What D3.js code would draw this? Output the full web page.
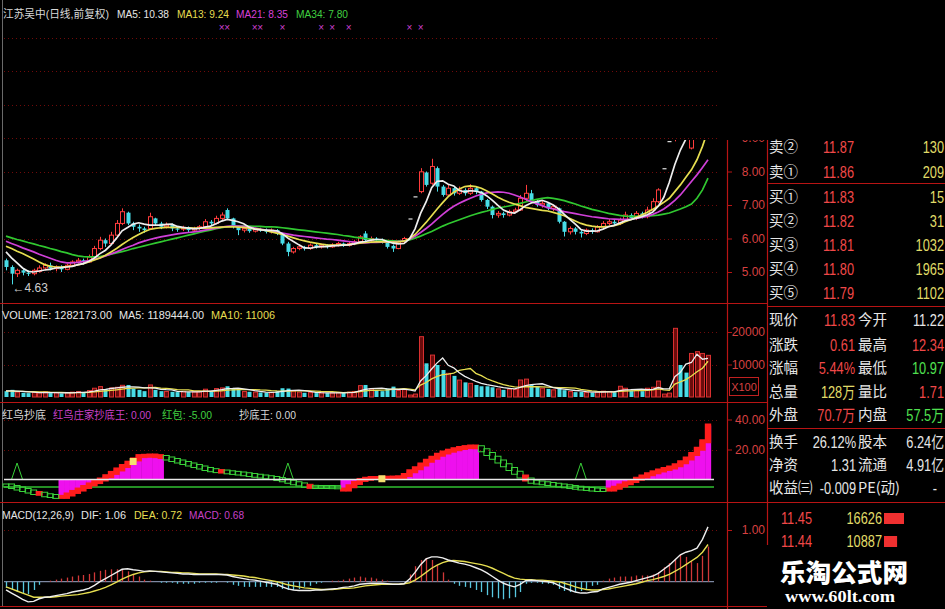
<!DOCTYPE html>
<html><head><meta charset="utf-8">
<script src="https://cdn.jsdelivr.net/npm/d3@7/dist/d3.min.js"></script>
<style>html,body{margin:0;padding:0;background:#000;overflow:hidden}svg{display:block}</style>
</head><body>
<svg id="chart" width="945" height="609"></svg>
<script>
// ---------------- DATA ----------------
const openP=[5.35,5.15,4.95,5.05,4.98,4.95,5.02,5.12,5.20,5.10,
5.15,5.08,5.20,5.30,5.35,5.30,5.45,5.70,5.95,5.85,
6.10,6.45,6.77,6.45,6.35,6.30,6.30,6.60,6.45,6.35,
6.40,6.30,6.28,6.32,6.25,6.30,6.35,6.50,6.45,6.60,
6.85,6.60,6.35,6.25,6.30,6.22,6.28,6.25,6.20,6.25,
6.15,5.85,5.60,5.70,5.75,5.70,5.80,5.75,5.80,5.75,
5.80,5.85,5.80,5.85,5.90,6.15,5.95,6.00,5.95,5.90,
5.78,5.70,5.90,6.60,7.26,7.40,7.97,7.65,8.10,7.55,
7.30,7.50,7.35,7.45,7.35,7.50,7.40,7.15,6.95,6.70,
6.75,6.70,6.80,6.85,7.20,7.35,7.10,7.00,7.05,6.90,
6.90,6.50,6.20,6.30,6.20,6.15,6.25,6.20,6.35,6.45,
6.50,6.45,6.55,6.70,6.60,6.75,6.65,6.85,7.10,8.10,
8.91,9.00,9.50,9.25,8.70,9.60,10.50,11.22];
const closeP=[5.15,4.95,5.05,4.98,4.95,5.05,5.12,5.20,5.10,5.15,
5.08,5.20,5.30,5.35,5.30,5.45,5.70,5.95,5.85,6.10,
6.45,6.80,6.45,6.35,6.30,6.25,6.65,6.45,6.35,6.40,
6.30,6.28,6.32,6.25,6.30,6.35,6.50,6.45,6.60,6.70,
6.60,6.35,6.25,6.30,6.22,6.28,6.25,6.20,6.25,6.15,
5.85,5.60,5.70,5.75,5.70,5.80,5.75,5.80,5.75,5.80,
5.85,5.80,5.85,5.90,6.05,5.95,6.00,5.95,5.90,5.75,
5.70,5.90,6.00,6.60,7.26,7.99,7.60,8.15,7.55,7.30,
7.50,7.35,7.45,7.35,7.50,7.40,7.15,6.95,6.70,6.75,
6.70,6.80,6.85,7.20,7.35,7.10,7.00,7.05,6.90,6.95,
6.50,6.20,6.30,6.20,6.15,6.25,6.20,6.35,6.45,6.50,
6.45,6.55,6.70,6.60,6.75,6.65,6.85,7.10,7.45,8.10,
8.91,9.50,9.25,9.10,9.55,10.20,11.22,11.83];
const highP=[5.40,5.20,5.10,5.12,5.05,5.10,5.20,5.26,5.28,5.20,
5.20,5.25,5.35,5.42,5.40,5.52,5.78,6.05,6.00,6.20,
6.55,6.90,6.80,6.50,6.42,6.35,6.77,6.62,6.50,6.48,
6.45,6.35,6.38,6.36,6.35,6.40,6.58,6.55,6.68,6.78,
6.90,6.62,6.38,6.35,6.33,6.32,6.32,6.30,6.30,6.28,
6.17,5.90,5.75,5.80,5.78,5.85,5.84,5.85,5.83,5.86,
5.90,5.88,5.90,5.96,6.10,6.22,6.06,6.04,6.00,5.93,
5.82,5.95,6.05,6.60,7.26,8.10,8.00,8.38,8.15,7.60,
7.62,7.55,7.55,7.50,7.62,7.55,7.42,7.18,6.98,6.82,
6.80,6.86,6.92,7.30,7.60,7.45,7.15,7.12,7.08,7.00,
6.92,6.52,6.36,6.34,6.25,6.30,6.30,6.40,6.52,6.58,
6.56,6.62,6.80,6.75,6.82,6.80,6.95,7.20,7.50,8.10,
8.91,9.80,9.70,9.40,9.60,10.30,11.22,12.34];
const lowP=[5.05,4.63,4.85,4.90,4.88,4.90,4.98,5.05,5.05,5.02,
5.00,5.05,5.15,5.25,5.22,5.28,5.42,5.65,5.75,5.80,
6.05,6.40,6.40,6.25,6.20,6.17,6.28,6.38,6.28,6.30,
6.22,6.20,6.22,6.18,6.20,6.25,6.32,6.40,6.42,6.55,
6.57,6.30,6.10,6.18,6.17,6.18,6.20,6.15,6.15,6.10,
5.80,5.47,5.55,5.65,5.64,5.66,5.70,5.70,5.70,5.72,
5.76,5.75,5.76,5.80,5.86,5.90,5.90,5.90,5.85,5.70,
5.60,5.68,5.86,6.60,7.26,7.35,7.55,7.60,7.40,7.25,
7.25,7.28,7.30,7.28,7.30,7.32,7.10,6.88,6.60,6.62,
6.62,6.66,6.75,6.82,7.10,7.05,6.95,6.92,6.85,6.82,
6.45,6.06,6.12,6.12,6.03,6.10,6.14,6.18,6.30,6.40,
6.38,6.40,6.50,6.55,6.55,6.60,6.60,6.80,7.05,8.10,
8.91,8.90,9.10,8.95,8.66,9.50,10.30,10.97];
const ma5=[5.60,5.42,5.27,5.12,5.02,5.00,5.03,5.06,5.08,5.12,
5.13,5.15,5.17,5.22,5.25,5.32,5.42,5.55,5.65,5.81,
6.01,6.23,6.33,6.43,6.47,6.43,6.40,6.40,6.40,6.42,
6.43,6.36,6.33,6.31,6.29,6.30,6.34,6.37,6.44,6.52,
6.57,6.54,6.50,6.44,6.34,6.28,6.26,6.25,6.24,6.23,
6.14,6.01,5.91,5.81,5.72,5.71,5.74,5.76,5.76,5.78,
5.79,5.80,5.81,5.84,5.89,5.91,5.95,5.97,5.97,5.91,
5.86,5.84,5.85,5.99,6.29,6.75,7.09,7.52,7.71,7.72,
7.62,7.57,7.43,7.39,7.43,7.41,7.37,7.27,7.14,6.99,
6.85,6.78,6.76,6.86,6.98,7.06,7.10,7.14,7.08,7.00,
6.88,6.72,6.57,6.43,6.27,6.22,6.22,6.23,6.28,6.35,
6.39,6.46,6.53,6.56,6.61,6.65,6.71,6.79,6.96,7.23,
7.68,8.21,8.64,8.97,9.26,9.52,9.86,10.38];
const ma13=[5.77,5.70,5.62,5.55,5.47,5.39,5.30,5.22,5.17,5.15,
5.15,5.16,5.18,5.21,5.25,5.30,5.36,5.42,5.50,5.60,
5.70,5.82,5.93,6.03,6.12,6.20,6.27,6.30,6.32,6.33,
6.33,6.33,6.32,6.32,6.31,6.31,6.31,6.32,6.33,6.34,
6.35,6.35,6.34,6.33,6.31,6.29,6.27,6.24,6.20,6.16,
6.12,6.07,6.02,5.97,5.93,5.89,5.86,5.83,5.81,5.80,
5.80,5.81,5.82,5.84,5.86,5.88,5.89,5.90,5.90,5.90,
5.89,5.90,5.92,6.00,6.12,6.30,6.48,6.68,6.88,7.07,
7.25,7.38,7.48,7.55,7.57,7.55,7.50,7.42,7.33,7.23,
7.15,7.08,7.03,6.98,6.93,6.90,6.87,6.84,6.82,6.78,
6.73,6.68,6.60,6.52,6.45,6.40,6.37,6.35,6.35,6.36,
6.38,6.43,6.50,6.56,6.63,6.70,6.78,6.87,6.97,7.08,
7.20,7.40,7.60,7.83,8.05,8.35,8.75,9.24];
const ma21=[5.92,5.85,5.79,5.72,5.66,5.60,5.53,5.47,5.41,5.35,
5.30,5.27,5.27,5.29,5.31,5.34,5.38,5.42,5.48,5.54,
5.60,5.67,5.74,5.80,5.87,5.92,5.97,6.01,6.05,6.08,
6.11,6.14,6.16,6.18,6.20,6.22,6.25,6.28,6.31,6.34,
6.36,6.37,6.37,6.36,6.34,6.31,6.28,6.25,6.22,6.19,
6.16,6.13,6.10,6.08,6.06,6.04,6.02,6.00,5.98,5.97,
5.95,5.93,5.91,5.89,5.87,5.87,5.88,5.88,5.89,5.90,
5.90,5.91,5.92,5.98,6.07,6.18,6.30,6.43,6.58,6.72,
6.85,6.96,7.05,7.13,7.20,7.27,7.32,7.36,7.38,7.39,
7.38,7.35,7.30,7.24,7.17,7.10,7.04,6.98,6.92,6.88,
6.84,6.80,6.77,6.74,6.71,6.68,6.65,6.63,6.61,6.59,
6.58,6.57,6.57,6.58,6.60,6.63,6.67,6.72,6.79,6.88,
7.00,7.14,7.30,7.50,7.70,7.90,8.12,8.35];
const ma34=[6.07,6.02,5.97,5.93,5.88,5.84,5.79,5.75,5.70,5.66,
5.61,5.57,5.52,5.48,5.46,5.45,5.45,5.46,5.49,5.53,
5.57,5.61,5.65,5.70,5.74,5.78,5.82,5.86,5.90,5.94,
5.98,6.02,6.06,6.10,6.14,6.18,6.22,6.25,6.29,6.32,
6.35,6.37,6.37,6.37,6.37,6.36,6.36,6.35,6.35,6.34,
6.32,6.30,6.28,6.26,6.24,6.22,6.20,6.18,6.16,6.14,
6.12,6.09,6.07,6.04,6.02,6.00,5.98,5.96,5.95,5.94,
5.93,5.92,5.92,5.96,6.01,6.07,6.14,6.21,6.29,6.37,
6.44,6.50,6.56,6.62,6.68,6.73,6.78,6.82,6.87,6.91,
6.94,6.97,7.01,7.05,7.09,7.13,7.17,7.20,7.22,7.20,
7.17,7.13,7.08,7.03,6.97,6.92,6.87,6.83,6.79,6.75,
6.72,6.69,6.67,6.66,6.66,6.66,6.67,6.68,6.70,6.73,
6.76,6.82,6.88,6.95,7.03,7.20,7.45,7.80];
const volume=[1800,2200,1500,1300,1200,1400,1300,1600,1200,1300,
1100,1400,1500,1700,1300,2000,2700,3200,2400,2800,
3000,3600,3700,2600,2200,1800,3700,2200,1800,1700,
1600,1500,1700,1500,1600,1700,2400,1900,2600,2800,
3300,2600,2300,1700,1600,1500,1400,1300,1400,1800,
2700,2600,1800,1500,1300,1400,1200,1300,1200,1300,
1400,1300,1500,1700,3500,3700,2500,2000,1800,2600,
3200,2000,2400,600,900,18560,10360,12900,9850,8300,
7280,6500,5200,4500,4200,3700,3300,3300,3000,2500,
2200,2400,2300,5230,5500,3700,3200,2700,2500,2200,
2500,2100,1700,1500,1600,1400,1300,1600,1800,1700,
1500,3300,2700,2000,2200,1800,2700,3000,4900,900,
1200,21130,9850,7500,13400,13950,13400,12822];
const volMa5=[1900,1900,1800,1700,1600,1520,1340,1360,1340,1360,
1300,1320,1300,1400,1400,1580,1840,2180,2320,2620,
2820,3000,3100,3140,3020,2780,2800,2700,2340,2240,
2200,1760,1660,1600,1580,1600,1780,1820,2040,2280,
2600,2640,2720,2500,2300,1940,1700,1500,1440,1480,
1740,1960,2060,2080,1980,1720,1440,1340,1280,1280,
1280,1300,1340,1440,1880,2340,2580,2680,2700,2520,
2420,2320,2400,2160,1820,4940,6560,8620,10510,11990,
9740,8960,7430,6360,5540,4820,4180,3800,3500,3160,
2860,2680,2480,2930,3530,3830,3990,4070,3520,2860,
2620,2400,2200,2000,1880,1660,1500,1480,1540,1560,
1580,1980,2200,2240,2340,2400,2280,2340,2920,2520,
2540,6226,7596,10116,10616,13166,11620,11894];
const volMa10=[1800,1800,1750,1700,1680,1650,1600,1550,1470,1430,
1410,1340,1320,1350,1350,1440,1570,1740,1860,2010,
2200,2420,2640,2730,2820,2800,2900,2950,2740,2630,
2490,2270,2200,2170,1910,1900,1770,1740,1820,1930,
2100,2210,2270,2270,2290,2270,2170,2110,1970,1870,
1810,1820,1880,1940,1930,1890,1830,1700,1630,1630,
1510,1370,1400,1440,1660,1900,2020,2070,2100,2220,
2380,2450,2540,2430,2180,3670,4450,5560,6340,6910,
7050,7380,8230,8480,8770,7280,6570,5610,4930,4350,
3840,3430,3140,3020,3150,3160,3150,3090,3010,2980,
2910,2880,2810,2730,2350,2140,1900,1730,1660,1630,
1570,1720,1840,1880,1940,1940,2030,2180,2490,2210,
2020,3960,4660,5360,6480,7750,8850,11006];
// 红鸟抄底 indicator
const birdLine=[-4,-5,-6,-7,-8,-9,-9.5,-10.5,-11,-11.6,
-11.6,-10,-8.3,-6.7,-5,-3.3,-1.7,0,2.2,4.4,
6.7,9,11.2,13.4,15.6,15.8,16,15.6,15,14,
13,12,11,10,9,8,7,6.2,5.6,5.3,
4.8,4.4,4,3.5,3,2.5,2,1.5,1,0.3,
-0.5,-1.5,-2.5,-3.3,-4.2,-4.9,-5,-5,-5,-5.1,
-5.2,-6.7,-4.5,-2.3,-0.3,0.5,1,1,1.1,1.2,
1.3,1.5,3,5.5,7.5,10,12.5,14.5,16.5,18,
19.2,20.2,21,21.6,22,21.5,19.5,17,14.5,12,
9.5,7,4.5,2,0,-1.5,-2,-2.5,-3,-3.5,
-4,-4.5,-5,-5.5,-6,-6.3,-6.7,-7,-7,-6.7,
-5.5,-4,-2.5,-1,0.5,2,3.5,4.8,6,7,
8,9.5,11.5,14,17,20.5,25.5,36];
const birdActive=[[10,28],[61,85],[109,127]];
const birdRedDots=[6,39,55,94];
const bottomSignal=[2,51,104];
const bottomSignalValue=11;
const redPacketLevel=-5;
const yellowMarks=[[23,12],[68,0.5]];
// MACD
const dif=[-0.16,-0.22,-0.28,-0.34,-0.39,-0.38,-0.33,-0.30,-0.29,-0.27,
-0.25,-0.23,-0.20,-0.18,-0.16,-0.13,-0.07,0.00,0.06,0.12,
0.18,0.24,0.25,0.23,0.22,0.20,0.21,0.20,0.19,0.18,
0.17,0.16,0.15,0.15,0.14,0.14,0.14,0.14,0.14,0.14,
0.13,0.10,0.08,0.06,0.04,0.03,0.01,-0.01,-0.03,-0.05,
-0.10,-0.14,-0.16,-0.17,-0.17,-0.17,-0.16,-0.16,-0.15,-0.14,
-0.13,-0.11,-0.10,-0.08,-0.05,-0.04,-0.03,-0.03,-0.03,-0.04,
-0.05,-0.05,-0.04,0.05,0.18,0.33,0.44,0.48,0.48,0.46,
0.42,0.39,0.36,0.34,0.31,0.27,0.23,0.17,0.10,0.03,
-0.03,-0.07,-0.10,-0.05,0.02,0.03,0.02,0.01,0.00,-0.02,
-0.07,-0.12,-0.16,-0.20,-0.22,-0.22,-0.20,-0.19,-0.14,-0.11,
-0.08,-0.05,-0.03,-0.01,0.02,0.05,0.08,0.11,0.16,0.24,
0.32,0.42,0.52,0.57,0.60,0.65,0.82,1.06];
const dea=[-0.10,-0.14,-0.18,-0.22,-0.26,-0.30,-0.30,-0.30,-0.30,-0.29,
-0.28,-0.27,-0.26,-0.25,-0.23,-0.21,-0.18,-0.15,-0.11,-0.06,
-0.01,0.05,0.10,0.14,0.17,0.19,0.20,0.20,0.20,0.19,
0.18,0.18,0.17,0.17,0.16,0.15,0.15,0.15,0.15,0.14,
0.14,0.13,0.12,0.11,0.09,0.08,0.06,0.04,0.02,0.00,
-0.03,-0.06,-0.08,-0.10,-0.12,-0.13,-0.14,-0.15,-0.15,-0.15,
-0.14,-0.13,-0.13,-0.12,-0.10,-0.08,-0.07,-0.06,-0.05,-0.05,
-0.05,-0.05,-0.04,-0.02,0.03,0.10,0.18,0.26,0.32,0.37,
0.40,0.41,0.40,0.39,0.37,0.35,0.33,0.30,0.26,0.21,
0.16,0.11,0.07,0.05,0.04,0.04,0.03,0.03,0.02,0.01,
0.00,-0.03,-0.06,-0.10,-0.13,-0.15,-0.16,-0.16,-0.15,-0.14,
-0.12,-0.10,-0.08,-0.06,-0.04,-0.01,0.02,0.04,0.07,0.10,
0.14,0.20,0.26,0.33,0.40,0.47,0.57,0.72];
const macdHist=[-0.12,-0.16,-0.20,-0.22,-0.24,-0.16,-0.06,0.00,0.02,0.04,
0.06,0.08,0.10,0.12,0.13,0.15,0.18,0.21,0.23,0.24,
0.24,0.23,0.20,0.15,0.10,0.04,0.02,0.00,-0.02,-0.02,
-0.02,-0.04,-0.04,-0.04,-0.04,-0.02,-0.02,-0.02,-0.02,0.00,
-0.02,-0.06,-0.08,-0.10,-0.10,-0.10,-0.10,-0.10,-0.10,-0.10,
-0.14,-0.16,-0.16,-0.14,-0.10,-0.08,-0.04,-0.02,0.00,0.02,
0.02,0.04,0.06,0.08,0.10,0.08,0.08,0.06,0.04,0.02,
0.00,0.00,0.00,0.14,0.30,0.42,0.46,0.42,0.32,0.18,
0.04,-0.04,-0.08,-0.10,-0.12,-0.16,-0.20,-0.26,-0.30,-0.32,
-0.34,-0.32,-0.30,-0.20,-0.04,-0.02,-0.02,-0.04,-0.04,-0.06,
-0.14,-0.18,-0.20,-0.20,-0.18,-0.14,-0.08,-0.06,0.02,0.06,
0.08,0.10,0.10,0.10,0.12,0.12,0.12,0.14,0.18,0.28,
0.36,0.44,0.52,0.48,0.40,0.36,0.50,0.68];
const signalMarks=[39,40,45,46,50,57,59,62,73,75];
// ticks / labels
const priceGrid=[5,6,7,8,9,10,11,12];
const priceTicks=[5,6,7,8,9];
const volTicks=[10000,20000];
const indTicks=[20,40];
const macdTicks=[1];
const headerMain=[["江苏吴中(日线,前复权)","#d8d8d8"],["MA5: 10.38","#e6e6e6"],["MA13: 9.24","#e6de50"],["MA21: 8.35","#d840d8"],["MA34: 7.80","#40d040"]];
const headerVol=[["VOLUME: 1282173.00","#e6e6e6"],["MA5: 1189444.00","#e6e6e6"],["MA10: 11006","#e6de50"]];
const headerInd=[["红鸟抄底","#d8d8d8"],["红鸟庄家抄底王: 0.00","#c840c8"],["红包: -5.00","#40d040"],["抄底王: 0.00","#d8d8d8"]];
const headerMacd=[["MACD(12,26,9)","#e6e6e6"],["DIF: 1.06","#e6e6e6"],["DEA: 0.72","#e6de50"],["MACD: 0.68","#c840c8"]];
const sellRows=[["卖②","11.87","130"],["卖①","11.86","209"]];
const buyRows=[["买①","11.83","15"],["买②","11.82","31"],["买③","11.81","1032"],["买④","11.80","1965"],["买⑤","11.79","1102"]];
const quoteRows=[["现价","11.83","今开","11.22"],["涨跌","0.61","最高","12.34"],["涨幅","5.44%","最低","10.97"],["总量","128万","量比","1.71"],["外盘","70.7万","内盘","57.5万"]];
const quoteColors=[["red","white"],["red","red"],["red","green"],["yellow","red"],["red","green"]];
const finRows=[["换手","26.12%","股本","6.24亿"],["净资","1.31","流通","4.91亿"],["收益㈢","-0.009","PE(动)","-"]];
const tickRows=[["11.45",16626],["11.44",10887]];

// ---------------- DRAW ----------------
const N=closeP.length, idx=d3.range(N);
const svg=d3.select('#chart');
svg.append('rect').attr('width',945).attr('height',609).attr('fill','#000');
const FONT='"Liberation Sans","Noto Sans CJK SC",Arial,sans-serif';
const CJK='"Noto Sans CJK SC","Liberation Sans",sans-serif';
const COL={red:'#f04848',yellow:'#e0dc68',green:'#50e050',white:'#e6e6e6'};
const LINE='#b81414', GRID='#700a0a', AXT='#d84040';
const UP='#ff3c3c', DOWN='#48dce6', FLAT='#e0e0e0';

const x=d3.scaleLinear().domain([0,N-1]).range([6,708]);
const step=x(1)-x(0);
const yP=d3.scaleLinear().domain([4,12]).range([305.5,37.5]);
const yV=d3.scaleLinear().domain([0,20000]).range([397,332]);
const yI=d3.scaleLinear().domain([0,40]).range([479.5,419.5]);
const yM=d3.scaleLinear().domain([0,1]).range([581.7,530]);

const defs=svg.append('defs');
defs.append('clipPath').attr('id','cpMain').append('rect').attr('x',3).attr('y',140).attr('width',716).attr('height',162);
defs.append('clipPath').attr('id','cpAxis').append('rect').attr('x',719).attr('y',140).attr('width',47).attr('height',470);

function grid(vals,scale){
  svg.append('g').selectAll('line').data(vals).join('line')
    .attr('x1',4).attr('x2',718)
    .attr('y1',d=>Math.round(scale(d))+.5).attr('y2',d=>Math.round(scale(d))+.5)
    .attr('stroke',GRID).attr('stroke-dasharray','1,3');
}
grid(priceGrid,yP); grid(volTicks,yV); grid(indTicks,yI); grid(macdTicks,yM);

// left border
svg.append('line').attr('x1',2.5).attr('x2',2.5).attr('y1',0).attr('y2',606).attr('stroke','#6a6a6a');
// panel separators
[303,402,502,606].forEach(y=>svg.append('line').attr('x1',0).attr('x2',767).attr('y1',y+.5).attr('y2',y+.5).attr('stroke',LINE).attr('stroke-width',1.2));
// axis line
svg.append('line').attr('x1',727.5).attr('x2',727.5).attr('y1',140).attr('y2',609).attr('stroke',LINE).attr('stroke-width',1.2);

// headers
function header(items,y,xs,ws){
  items.forEach((it,k)=>svg.append('text').attr('x',xs[k]).attr('y',y)
    .attr('font-family',FONT).attr('font-size',11.5).attr('fill',it[1])
    .attr('textLength',ws[k]).attr('lengthAdjust','spacingAndGlyphs').text(it[0]));
}
header(headerMain,18,[3,117,177,236,296],[106,52,52,52,52]);
header(headerVol,319,[2,119,211],[110,85,64]);
header(headerInd,419,[2,53,162,239],[44,98,50,57]);
header(headerMacd,519,[2,81,134,189],[72,45,48,55]);

// signal markers
svg.append('g').selectAll('text').data(signalMarks).join('text')
  .attr('x',i=>x(i)).attr('y',31).attr('text-anchor','middle')
  .attr('font-family',FONT).attr('font-size',10).attr('fill','#d040d0').text('×');

// ---- main candles
const colOf=i=>closeP[i]>openP[i]?UP:(closeP[i]<openP[i]?DOWN:FLAT);
const gC=svg.append('g').attr('clip-path','url(#cpMain)');
gC.selectAll('line.w').data(idx).join('line').attr('class','w')
  .attr('x1',i=>Math.round(x(i))+.5).attr('x2',i=>Math.round(x(i))+.5)
  .attr('y1',i=>yP(highP[i])).attr('y2',i=>yP(lowP[i])).attr('stroke',colOf);
gC.selectAll('rect.b').data(idx).join('rect').attr('class','b')
  .attr('x',i=>Math.round(x(i))-1.5).attr('width',4)
  .attr('y',i=>yP(Math.max(openP[i],closeP[i])))
  .attr('height',i=>Math.max(1.2,Math.abs(yP(openP[i])-yP(closeP[i]))))
  .attr('fill',i=>closeP[i]>openP[i]?'#000':colOf(i))
  .attr('stroke',i=>closeP[i]>openP[i]?UP:'none');
const line=d3.line().x((d,i)=>x(i)).y(d=>yP(d));
[[ma34,'#30c830'],[ma21,'#d040d8'],[ma13,'#e6de50'],[ma5,'#eeeeee']].forEach(([arr,c])=>
  gC.append('path').attr('d',line(arr)).attr('fill','none').attr('stroke',c).attr('stroke-width',1.7));
const lowIdx=d3.minIndex(lowP);
svg.append('text').attr('x',x(lowIdx)+1).attr('y',yP(lowP[lowIdx])+8)
  .attr('font-family',FONT).attr('font-size',12).attr('fill','#cfcfcf').text('←'+lowP[lowIdx].toFixed(2));

// ---- volume
const gV=svg.append('g');
gV.selectAll('rect').data(idx).join('rect')
  .attr('x',i=>Math.round(x(i))-1.5).attr('width',4)
  .attr('y',i=>yV(volume[i])).attr('height',i=>yV(0)-yV(volume[i]))
  .attr('fill',i=>closeP[i]>=openP[i]?'#6a0c0c':DOWN)
  .attr('stroke',i=>closeP[i]>=openP[i]?'#d83030':'none');
const vline=d3.line().x((d,i)=>x(i)).y(d=>yV(d));
gV.append('path').attr('d',vline(volMa10)).attr('fill','none').attr('stroke','#e6de50').attr('stroke-width',1.3);
gV.append('path').attr('d',vline(volMa5)).attr('fill','none').attr('stroke','#eeeeee').attr('stroke-width',1.3);

// ---- indicator 红鸟抄底
const gI=svg.append('g');
const isActive=idx.map(i=>birdActive.some(([s,e])=>i>=s&&i<=e));
const segStart=idx.map(i=>birdActive.some(([s])=>i===s));
gI.append('line').attr('x1',4).attr('x2',714).attr('y1',yI(redPacketLevel)).attr('y2',yI(redPacketLevel))
  .attr('stroke','#30c030').attr('stroke-width',1.6);
const act=idx.filter(i=>isActive[i]);
gI.selectAll('rect.fill').data(act).join('rect').attr('class','fill')
  .attr('x',i=>x(i)-step/2).attr('width',step+0.4)
  .attr('y',i=>Math.min(yI(0),yI(birdLine[i]))).attr('height',i=>Math.abs(yI(0)-yI(birdLine[i])))
  .attr('fill','#ee10ee');
function band(i){const a=segStart[i]||i===0?birdLine[i]:birdLine[i-1],b=birdLine[i];
  const y1=Math.min(yI(a),yI(b)),y2=Math.max(yI(a),yI(b));return [y1-2,Math.max(4,y2-y1+4)];}
gI.selectAll('rect.red').data(act).join('rect').attr('class','red')
  .attr('x',i=>x(i)-3.2).attr('width',6.4)
  .attr('y',i=>band(i)[0]).attr('height',i=>band(i)[1]).attr('fill','#ff1c1c');
const inact=idx.filter(i=>!isActive[i]);
gI.selectAll('rect.grn').data(inact).join('rect').attr('class','grn')
  .attr('x',i=>x(i)-3).attr('width',6)
  .attr('y',i=>band(i)[0]+0.5).attr('height',i=>band(i)[1]-1)
  .attr('fill',i=>birdRedDots.includes(i)?'#ff2020':'none')
  .attr('stroke',i=>birdRedDots.includes(i)?'#ff2020':'#3ad23a').attr('stroke-width',1);
bottomSignal.forEach(i=>gI.append('path')
  .attr('d',d3.line()([[x(i-1),yI(0)],[x(i),yI(bottomSignalValue)],[x(i+1),yI(0)]]))
  .attr('fill','none').attr('stroke','#38d038').attr('stroke-width',1));
gI.append('line').attr('x1',4).attr('x2',714).attr('y1',yI(0)).attr('y2',yI(0)).attr('stroke','#e8e8e8').attr('stroke-width',1.6);
gI.selectAll('rect.y').data(yellowMarks).join('rect').attr('class','y')
  .attr('x',d=>x(d[0])-3.5).attr('y',d=>yI(d[1])-3.5).attr('width',7).attr('height',7).attr('fill','#f4e070');

// ---- MACD
const gM=svg.append('g');
gM.append('line').attr('x1',4).attr('x2',714).attr('y1',yM(0)).attr('y2',yM(0)).attr('stroke','#9aa8c8');
gM.selectAll('line.h').data(idx).join('line').attr('class','h')
  .attr('x1',i=>Math.round(x(i))+.5).attr('x2',i=>Math.round(x(i))+.5)
  .attr('y1',yM(0)).attr('y2',i=>yM(macdHist[i]))
  .attr('stroke',i=>macdHist[i]>=0?'#d03838':'#58c8e0').attr('stroke-width',1.3);
const mline=d3.line().x((d,i)=>x(i)).y(d=>yM(d));
gM.append('path').attr('d',mline(dea)).attr('fill','none').attr('stroke','#e6de50').attr('stroke-width',1.4);
gM.append('path').attr('d',mline(dif)).attr('fill','none').attr('stroke','#eeeeee').attr('stroke-width',1.4);

// ---- right axes
function axis(scale,vals,fmt){
  const outer=svg.append('g').attr('clip-path','url(#cpAxis)');
  const g=outer.append('g').attr('transform','translate(727,0)')
    .call(d3.axisRight(scale).tickValues(vals).tickFormat(fmt).tickSize(5).tickPadding(3));
  g.select('.domain').remove();
  g.selectAll('.tick line').attr('stroke',LINE);
  g.selectAll('.tick text').attr('x',38).attr('text-anchor','end').attr('fill',AXT)
    .attr('font-family',FONT).attr('font-size',12);
}
axis(yP,priceTicks,d3.format('.2f'));
axis(yV,volTicks,d3.format('d'));
axis(yI,indTicks,d3.format('.2f'));
axis(yM,macdTicks,d3.format('.2f'));
svg.append('rect').attr('x',729.5).attr('y',377.5).attr('width',29).attr('height',18).attr('fill','none').attr('stroke','#c02020');
svg.append('text').attr('x',744).attr('y',391).attr('text-anchor','middle').attr('font-family',FONT).attr('font-size',11).attr('fill',AXT).text('X100');

// ---- right panel
const rp=svg.append('g');
rp.append('line').attr('x1',767.5).attr('x2',767.5).attr('y1',140).attr('y2',545).attr('stroke',LINE).attr('stroke-width',1.2);
[183,306,428,502].forEach(y=>rp.append('line').attr('x1',767).attr('x2',945).attr('y1',y+.5).attr('y2',y+.5).attr('stroke',LINE).attr('stroke-width',1.2));
function lab(xl,y,s,c){rp.append('text').attr('x',xl).attr('y',y).attr('font-family',CJK).attr('font-size',14.5).attr('fill',c||COL.white).text(s);}
function num(xr,y,s,c,sx){rp.append('text').attr('transform',`translate(${xr},${y}) scale(${sx||0.8},1)`)
  .attr('text-anchor','end').attr('font-family',FONT).attr('font-size',16).attr('fill',c).text(s);}
const ob=[...sellRows.map((r,k)=>[r,[147,172][k]]),...buyRows.map((r,k)=>[r,[197,221,245,269,293][k]])];
ob.forEach(([r,yc])=>{lab(769,yc+5,r[0]);num(854,yc+6,r[1],COL.red);num(944,yc+6,r[2],COL.yellow);});
quoteRows.forEach((r,k)=>{const yc=[320,345,368,392,415][k];
  lab(769,yc+5,r[0]);num(855,yc+6,r[1],COL[quoteColors[k][0]]);lab(858,yc+5,r[2]);num(944,yc+6,r[3],COL[quoteColors[k][1]]);});
finRows.forEach((r,k)=>{const yc=[442,465,488][k];
  lab(769,yc+5,r[0]);num(856,yc+6,r[1],COL.white);lab(858,yc+5,r[2]);num(k===2?937:944,yc+6,r[3],COL.white);});
const bw=d3.scaleLinear().domain([0,d3.max(tickRows,d=>d[1])]).range([0,20]);
tickRows.forEach((r,k)=>{const yc=[518,541][k];
  num(812,yc+6,r[0],COL.red);num(882,yc+6,String(r[1]),COL.yellow);
  rp.append('rect').attr('x',884).attr('y',yc-5).attr('width',bw(r[1])).attr('height',11).attr('fill','#f03030');});
// watermark
svg.append('text').attr('x',844).attr('y',582).attr('text-anchor','middle').attr('font-family',CJK)
  .attr('font-weight',900).attr('font-size',25).attr('fill','#ffffff').attr('textLength',128).attr('lengthAdjust','spacingAndGlyphs').text('乐淘公式网');
svg.append('text').attr('x',840).attr('y',602).attr('text-anchor','middle').attr('font-family','"Liberation Serif",serif')
  .attr('font-weight',700).attr('font-size',16).attr('fill','#ffffff').attr('textLength',110).attr('lengthAdjust','spacingAndGlyphs').text('www.60lt.com');
</script>
</body></html>
